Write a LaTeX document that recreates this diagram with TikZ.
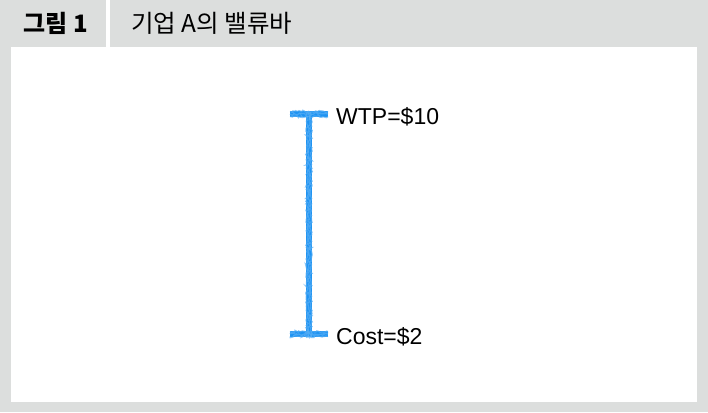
\documentclass[tikz,border=0pt]{standalone}
\usepackage{fontspec}
\setmainfont{Liberation Sans}
\newfontfamily\krfont{Noto Sans CJK KR}
\usepackage{xcolor}
\usetikzlibrary{positioning,decorations.pathmorphing}
\definecolor{PanelGray}{HTML}{DCDEDD}
\definecolor{ChalkBlue}{HTML}{1E93F2}

\begin{document}
\begin{tikzpicture}[x=1pt, y=-1pt, every node/.style={inner sep=0pt},
    chalk/.style={draw=ChalkBlue, line width=#1, line cap=butt},
    chalkrough/.style={draw=ChalkBlue!75!white, line width=1.2pt, opacity=0.7,
      decorate, decoration={random steps, segment length=1.5pt, amplitude=1.3pt}}]
    \useasboundingbox (0,0) rectangle (708,412);
    \fill[PanelGray] (0,0) rectangle (708,412);
    \fill[white] (11,47) rectangle (697,402);
    \fill[white] (106,0) rectangle (110,47);

    \node[font=\krfont\bfseries\fontsize{24}{24}\selectfont] (tab) at (56,23.5) {그림 1};
    \node[font=\krfont\fontsize{24.5}{24.5}\selectfont, anchor=west] (title) at (131,23.5) {기업 A의 밸류바};

    % value bar
    \coordinate (top) at (309,112);
    \coordinate (bottom) at (309,337);
    \coordinate (topL) at (290,114);
    \coordinate (topR) at (328,114);
    \coordinate (botL) at (290,334);
    \coordinate (botR) at (328,334);
    \draw[chalk=6pt] (top) -- (bottom);
    \draw[chalk=6.5pt] (topL) -- (topR);
    \draw[chalk=6.5pt] (botL) -- (botR);
    \foreach \dx in {-2,0,2} {
      \draw[chalkrough] ([xshift=\dx pt]top) -- ([xshift=\dx pt]bottom);
    }
    \foreach \dy in {-2.5,0,2.5} {
      \draw[chalkrough] ([yshift=\dy pt]topL) -- ([yshift=\dy pt]topR);
      \draw[chalkrough] ([yshift=\dy pt]botL) -- ([yshift=\dy pt]botR);
    }

    \node[font=\fontsize{23}{23}\selectfont, anchor=west] (wtp) at (336,117) {WTP=\$10};
    \node[font=\fontsize{23}{23}\selectfont, anchor=west] (cost) at (336,337) {Cost=\$2};
  \end{tikzpicture}
\end{document}
